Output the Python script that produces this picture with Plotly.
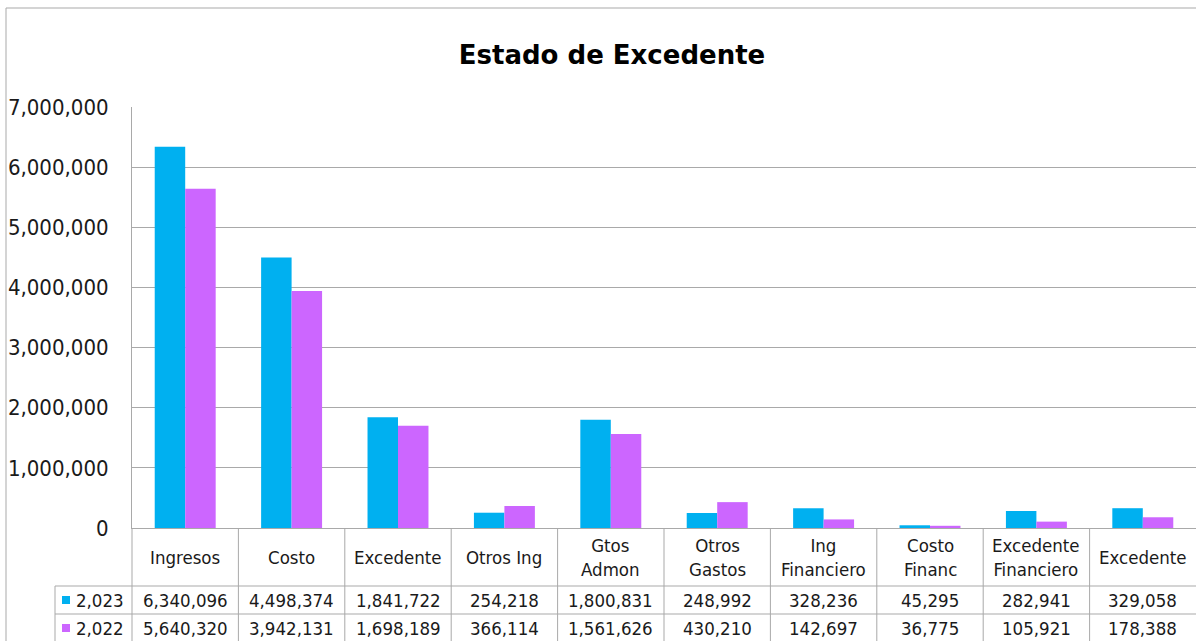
import plotly.graph_objects as go

categories = ["Ingresos", "Costo", "Excedente", "Otros Ing", "Gtos<br>Admon", "Otros<br>Gastos",
              "Ing<br>Financiero", "Costo<br>Financ", "Excedente<br>Financiero", "Excedente"]
years = [2023, 2022]
values_2023 = [6340096, 4498374, 1841722, 254218, 1800831, 248992, 328236, 45295, 282941, 329058]
values_2022 = [5640320, 3942131, 1698189, 366114, 1561626, 430210, 142697, 36775, 105921, 178388]
y_ticks = [0, 1000000, 2000000, 3000000, 4000000, 5000000, 6000000, 7000000]

series = [values_2023, values_2022]
colors = ["#00B0F0", "#CC66FF"]
FONT = "DejaVu Sans Condensed, DejaVu Sans, sans-serif"
GRID = "#A9A9A9"
TXT = "#1a1a1a"

W, H = 1196, 641
L, R, T, B = 132, 0, 107, 113
pw, ph = W - L - R, H - T - B
n = len(categories)

def px_x(p):
    return (p - L) / pw

def px_y(p):
    return (H - B - p) / ph

xs = list(range(n))
fig = go.Figure()
for yr, vals, col in zip(years, series, colors):
    fig.add_trace(go.Bar(x=xs, y=vals, name=f"{yr:,}", marker=dict(color=col, line=dict(width=0))))

shapes = []
line = dict(color=GRID, width=1)
# outer frame
shapes.append(dict(type="line", xref="paper", yref="paper", x0=px_x(6), x1=1.0, y0=px_y(8), y1=px_y(8), line=line))
shapes.append(dict(type="line", xref="paper", yref="paper", x0=px_x(6), x1=px_x(6), y0=px_y(8), y1=px_y(H + 2), line=line))
# table horizontal lines
row_lines = [586, 614]
for ry in row_lines:
    shapes.append(dict(type="line", xref="paper", yref="paper", x0=px_x(55), x1=1.0, y0=px_y(ry), y1=px_y(ry), line=line))
# table vertical lines (category boundaries)
for k in range(n):
    xb = k / n
    shapes.append(dict(type="line", xref="paper", yref="paper", x0=xb, x1=xb, y0=0, y1=px_y(H + 2), line=line))
shapes.append(dict(type="line", xref="paper", yref="paper", x0=px_x(55), x1=px_x(55), y0=px_y(586), y1=px_y(H + 2), line=line))

TABLE_FS = 18.5
annotations = []
header_y = px_y(557)
row_ys = [px_y(600), px_y(628)]
for i, c in enumerate(categories):
    annotations.append(dict(x=i, xref="x", y=header_y, yref="paper", text=c, showarrow=False,
                            font=dict(family=FONT, size=TABLE_FS, color=TXT), xanchor="center", yanchor="middle"))
for vals, ry in zip(series, row_ys):
    for i, v in enumerate(vals):
        annotations.append(dict(x=i, xref="x", y=ry, yref="paper", text=f"{v:,}", showarrow=False,
                                font=dict(family=FONT, size=TABLE_FS, color=TXT), xanchor="center", yanchor="middle"))
# legend keys
for yr, col, ry in zip(years, colors, [600, 628]):
    shapes.append(dict(type="rect", xref="paper", yref="paper", x0=px_x(62), x1=px_x(70),
                       y0=px_y(ry - 4), y1=px_y(ry + 4), fillcolor=col, line=dict(width=0)))
    annotations.append(dict(x=px_x(74), xref="paper", y=px_y(ry), yref="paper", text=f"{yr:,}", showarrow=False,
                            font=dict(family=FONT, size=TABLE_FS, color=TXT), xanchor="left", yanchor="middle"))

fig.update_layout(
    width=W, height=H,
    margin=dict(l=L, r=R, t=T, b=B),
    paper_bgcolor="white", plot_bgcolor="white",
    barmode="group", bargap=0.427, bargroupgap=0,
    showlegend=False,
    title=dict(text="<b>Estado de Excedente</b>", x=612 / W, xanchor="center", y=1 - 55 / H, yanchor="middle",
               font=dict(family="DejaVu Sans, sans-serif", size=26, color="#000")),
    xaxis=dict(range=[-0.5, n - 0.5], showticklabels=False, showgrid=False, zeroline=False,
               showline=True, linecolor=GRID, linewidth=1, ticks=""),
    yaxis=dict(range=[0, 7000000], tickvals=y_ticks, tickformat=",", showgrid=True, gridcolor=GRID,
               gridwidth=1, zeroline=False, showline=True, linecolor=GRID, linewidth=1,
               tickfont=dict(family=FONT, size=22, color=TXT), ticklabelstandoff=18),
    shapes=shapes, annotations=annotations,
)
fig.write_html("out.html", config={"displayModeBar": False},
               post_script="document.body.style.margin='0';document.body.style.overflow='hidden';")
